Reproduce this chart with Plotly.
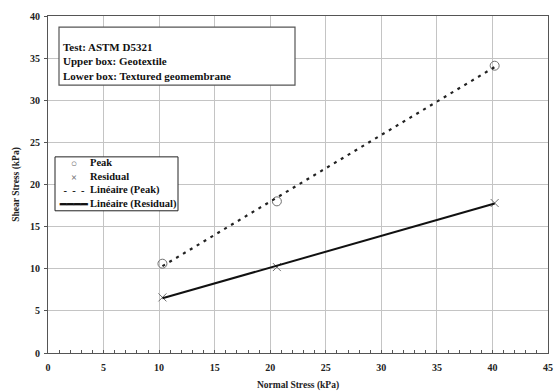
import numpy as np
import plotly.graph_objects as go

normal_stress = [10.3, 20.6, 40.2]
peak_shear = [10.6, 18.0, 34.1]
residual_shear = [6.6, 10.2, 17.8]

x_ticks = [0, 5, 10, 15, 20, 25, 30, 35, 40, 45]
y_ticks = [0, 5, 10, 15, 20, 25, 30, 35, 40]

info_lines = ["Test: ASTM D5321", "Upper box: Geotextile", "Lower box: Textured geomembrane"]
legend_labels = ["Peak", "Residual", "Linéaire (Peak)", "Linéaire (Residual)"]
legend_symbols = ["<span style='color:#707070'>○</span>", "<span style='color:#707070'>×</span>",
                  "-&nbsp;&nbsp;-&nbsp;&nbsp;-", "━━━━"]

# linear trend lines (least squares) over data range
xs = np.array([min(normal_stress), max(normal_stress)])
pk = np.polyfit(normal_stress, peak_shear, 1)
rs = np.polyfit(normal_stress, residual_shear, 1)

FONT = "Liberation Serif"
fig = go.Figure()
fig.add_trace(go.Scatter(x=normal_stress, y=peak_shear, mode="markers", name=legend_labels[0],
                         marker=dict(symbol="circle-open", size=9, color="#707070", line=dict(width=1))))
fig.add_trace(go.Scatter(x=normal_stress, y=residual_shear, mode="markers", name=legend_labels[1],
                         marker=dict(symbol="x-thin-open", size=8, color="#707070", line=dict(width=1))))
fig.add_trace(go.Scatter(x=xs, y=np.polyval(pk, xs), mode="lines", name=legend_labels[2],
                         line=dict(color="#222222", width=2.2, dash="3px,5px")))
fig.add_trace(go.Scatter(x=xs, y=np.polyval(rs, xs), mode="lines", name=legend_labels[3],
                         line=dict(color="#111111", width=2)))

# info box
fig.add_shape(type="rect", xref="paper", yref="paper", x0=0.022, x1=0.494, y0=0.795, y1=0.967,
              line=dict(color="#555555", width=1.2), fillcolor="white", layer="above")
fig.add_annotation(xref="paper", yref="paper", x=0.026, y=0.797, xanchor="left", yanchor="bottom",
                   align="left", showarrow=False,
                   text="<br>".join("<b>%s</b>" % t for t in info_lines),
                   font=dict(family=FONT, size=11, color="#111111"))

# legend box (drawn as text)
fig.add_shape(type="rect", xref="paper", yref="paper", x0=0.014, x1=0.26, y0=0.422, y1=0.582,
              line=dict(color="#222222", width=1), fillcolor="white", layer="above")
fig.add_annotation(xref="paper", yref="paper", x=0.05, y=0.502, xanchor="center", yanchor="middle",
                   align="center", showarrow=False,
                   text="<br>".join("<b>%s</b>" % s for s in legend_symbols),
                   font=dict(family=FONT, size=10.5, color="#111111"))
fig.add_annotation(xref="paper", yref="paper", x=0.08, y=0.502, xanchor="left", yanchor="middle",
                   align="left", showarrow=False,
                   text="<br>".join("<b>%s</b>" % s for s in legend_labels),
                   font=dict(family=FONT, size=10.5, color="#111111"))

axis_common = dict(showgrid=True, gridcolor="#c4c4c4", gridwidth=1.3, zeroline=False,
                   showline=True, linecolor="#555555", linewidth=1.2, mirror=True,
                   automargin=False,
                   tickfont=dict(family=FONT, size=10, color="#222222"))
fig.update_xaxes(range=[0, 45], tickvals=x_ticks, ticktext=["<b>%d</b>" % v for v in x_ticks],
                 ticks="inside", ticklen=3, tickcolor="#555555", ticklabelstandoff=5,
                 minor=dict(ticks="inside", dtick=1, ticklen=3, tickcolor="#555555", showgrid=False),
                 title=dict(text="<b>Normal Stress (kPa)</b>", font=dict(family=FONT, size=9.5, color="#222222"), standoff=9),
                 **axis_common)
fig.update_yaxes(range=[0, 40], tickvals=y_ticks, ticktext=["<b>%d</b>" % v for v in y_ticks],
                 ticks="outside", ticklen=3, tickcolor="#555555", ticklabelstandoff=2,
                 title=dict(text="<b>Shear Stress (kPa)</b>", font=dict(family=FONT, size=9.5, color="#222222"), standoff=8),
                 **axis_common)

fig.update_layout(width=558, height=392, margin=dict(l=48, r=10, t=16, b=39),
                  paper_bgcolor="white", plot_bgcolor="white",
                  showlegend=False)
fig.write_html("out.html", config={"displayModeBar": False},
               post_script="document.body.style.margin='0px';")
